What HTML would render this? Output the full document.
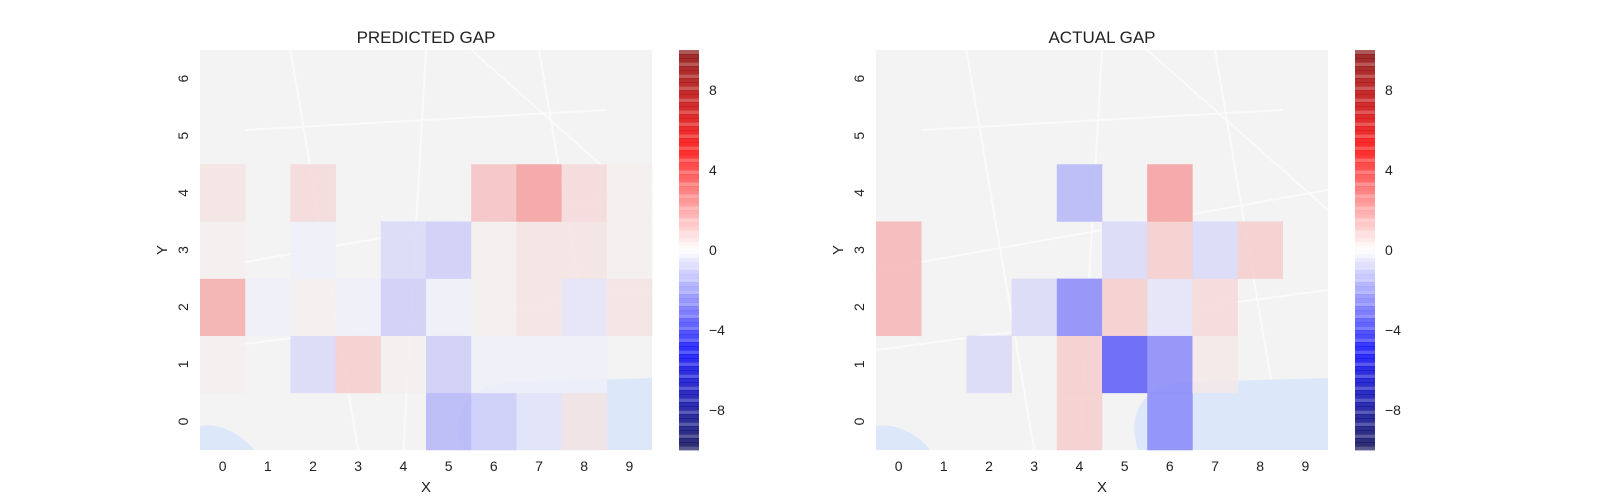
<!DOCTYPE html>
<html><head><meta charset="utf-8"><style>
body{margin:0;background:#fff;}
svg{display:block;font-family:"Liberation Sans",sans-serif;}
</style></head><body>
<svg id="chart" width="1600" height="500"></svg>
<script>
const xCategories=[0,1,2,3,4,5,6,7,8,9];
const yCategories=[0,1,2,3,4,5,6];
const colorbarTicks=[8,4,0,-4,-8];
// rows listed from y=0 upward
const predictedValues=[
 [0,0,0,0,0,-3,-2,-1,1,0],
 [0.5,0,-1.5,2,0.5,-2,-0.5,-0.5,-0.5,0],
 [3.5,-0.5,0.5,-0.5,-2,-0.5,0.5,1,-1,1],
 [0.5,0,-0.5,0,-1.5,-2,0.5,1,1,0.5],
 [1,0,1.5,0,0,0,2.5,4,1.5,0.5],
 [0,0,0,0,0,0,0,0,0,0],
 [0,0,0,0,0,0,0,0,0,0]];
const actualValues=[
 [0,0,0,0,2,0,-5,0,0,0],
 [0,0,-1.5,0,2,-7,-5,0.8,0,0],
 [3,0,0,-1.5,-5,2,-1,1.5,0,0],
 [3,0,0,0,0,-1.5,2,-1.5,2,0],
 [0,0,0,0,-3,0,4,0,0,0],
 [0,0,0,0,0,0,0,0,0,0],
 [0,0,0,0,0,0,0,0,0,0]];
const vmin=-10,vmax=10;
const NS="http://www.w3.org/2000/svg";
const svg=document.getElementById('chart');
function mk(t,a,p){const e=document.createElementNS(NS,t);for(const k in a)e.setAttribute(k,a[k]);(p||svg).appendChild(e);return e;}
function seismic(v){let t=(v-vmin)/(vmax-vmin);t=Math.max(0,Math.min(1,t));let r,g,b;
 if(t<0.25){const s=t/0.25;r=0;g=0;b=0.3+0.7*s;}
 else if(t<0.5){const s=(t-0.25)/0.25;r=s;g=s;b=1;}
 else if(t<0.75){const s=(t-0.5)/0.25;r=1;g=1-s;b=1-s;}
 else{const s=(t-0.75)/0.25;r=1-0.5*s;g=0;b=0;}
 return `rgb(${Math.round(r*255)},${Math.round(g*255)},${Math.round(b*255)})`;}
function cellColor(v){const o=Math.max(0,Math.round(250-23*Math.abs(v)));
 return v<0?`rgb(${o},${o},248)`:`rgb(245,${o},${o})`;}
function panel(x0,title,values,cbx,nm){
 const W=452,H=400,y0=50,cw=W/xCategories.length,ch=H/yCategories.length;
 const xs=i=>x0+i*cw, ys=j=>y0+H-(j+1)*ch;
 const g=mk('g',{});
 
 const bg=mk('rect',{x:x0,y:y0,width:W,height:H,fill:'#f3f3f3'},g);
 
 const roads=[[0,0.55,1,0.35],[0.2,0,0.35,1],[0.5,0,0.45,1],[0,0.75,1,0.6],[0.75,0,0.9,1],[0.1,0.2,0.9,0.15],[0.6,0,1,0.4]];
 roads.forEach(r=>mk('line',{x1:x0+r[0]*W,y1:y0+r[1]*H,x2:x0+r[2]*W,y2:y0+r[3]*H,stroke:'#fafafa','stroke-width':2},g));
 mk('path',{d:`M${x0+0.58*W} ${y0+H} C${x0+0.55*W} ${y0+0.9*H},${x0+0.6*W} ${y0+0.83*H},${x0+0.7*W} ${y0+0.83*H} L${x0+W} ${y0+0.82*H} L${x0+W} ${y0+H} Z`,fill:'#dce8fa'},g);
 mk('path',{d:`M${x0} ${y0+0.94*H} C${x0+0.05*W} ${y0+0.93*H},${x0+0.1*W} ${y0+0.97*H},${x0+0.12*W} ${y0+H} L${x0} ${y0+H} Z`,fill:'#dce8fa'},g);
 for(let j=0;j<yCategories.length;j++)for(let i=0;i<xCategories.length;i++){
  const v=values[j][i]; if(v===0) continue;
  const c=mk('rect',{x:xs(i),y:ys(j),width:cw+0.3,height:ch+0.3,fill:cellColor(v),'fill-opacity':0.85},g);
  
 }
 xCategories.forEach((c,i)=>{const t=mk('text',{x:xs(i)+cw/2,y:471,'text-anchor':'middle','font-size':14,fill:'#222'},g);t.textContent=c;
  });
 yCategories.forEach((c,j)=>{const yy=ys(j)+ch/2,xx=x0-17;const t=mk('text',{x:xx,y:yy,'text-anchor':'middle','font-size':14,fill:'#222',transform:`rotate(-90 ${xx} ${yy})`,dy:5},g);t.textContent=c;
  });
 const xt=mk('text',{x:x0+W/2,y:492,'text-anchor':'middle','font-size':15,fill:'#222'},g);xt.textContent='X';
 
 const yx=x0-38,yy=y0+H/2;
 const yt=mk('text',{x:yx,y:yy,'text-anchor':'middle','font-size':15,fill:'#222',transform:`rotate(-90 ${yx} ${yy})`,dy:5},g);yt.textContent='Y';
 
 const tt=mk('text',{x:x0+W/2,y:43,'text-anchor':'middle','font-size':17,fill:'#222'},g);tt.textContent=title;
 
 const cb=mk('g',{},g);
 const N=100,sh=H/N;
 for(let k=0;k<N;k++){const v=vmax-(k+0.5)*(vmax-vmin)/N;
  mk('rect',{x:cbx,y:y0+k*sh,width:20,height:sh+0.4,fill:seismic(v),'fill-opacity':(k%3==0?0.65:0.82)},cb);}
 const cy=v=>y0+(vmax-v)/(vmax-vmin)*H;
 colorbarTicks.forEach(v=>{const t=mk('text',{x:cbx+30,y:cy(v)+5,'font-size':14,fill:'#222'},cb);t.textContent=v<0?'\u2212'+(-v):v;
  });
}
panel(200,'PREDICTED GAP',predictedValues,679,'predicted');
panel(876,'ACTUAL GAP',actualValues,1355,'actual');
</script>
</body></html>
